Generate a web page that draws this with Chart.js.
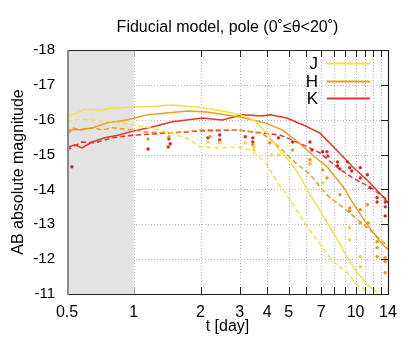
<!DOCTYPE html>
<html><head><meta charset="utf-8">
<script src="https://cdn.jsdelivr.net/npm/chart.js@4/dist/chart.umd.min.js"></script>
<style>html,body{margin:0;padding:0;background:#fff}</style>
</head><body>
<canvas id="c" width="415" height="346" style="display:block;width:415px;height:346px"></canvas>
<script>
// ---------- text ----------
const titleText = 'Fiducial model, pole (0\u02DA\u2264\u03B8<20\u02DA)';
const xAxisTitle = 't [day]';
const yAxisTitle = 'AB absolute magnitude';
const bandNames = ['J', 'H', 'K'];

// ---------- ticks ----------
const xTickValues = [0.5, 1, 2, 3, 4, 5, 6, 7, 8, 9, 10, 11, 12, 13, 14];
const xTickLabels = {0.5: '0.5', 1: '1', 2: '2', 3: '3', 4: '4', 5: '5', 7: '7', 10: '10', 14: '14'};
const yTickValues = [-18, -17, -16, -15, -14, -13, -12, -11];
const shadedRange = [0.5, 1];

// ---------- model curves (t [day], magnitude) ----------
const J_solid_t = [0.5, 0.55, 0.6, 0.7, 0.8, 0.9, 1.0, 1.2, 1.5, 1.8, 2.0, 2.5, 3.0, 3.5, 4.0, 4.5, 5.2, 5.7, 6.23, 7.1, 8.2, 9.2, 10.1, 11.3, 12.5];
const J_solid_m = [-16.11, -16.18, -16.3, -16.28, -16.33, -16.34, -16.37, -16.38, -16.42, -16.38, -16.35, -16.25, -16.15, -15.98, -15.6, -15.15, -14.7, -14.3, -13.85, -13.27, -12.61, -12.04, -11.64, -11.27, -11.04];

const J_dash_t = [0.5, 0.57, 0.7, 0.8, 1.0, 1.2, 1.5, 1.75, 2.0, 2.4, 2.9, 3.3, 3.9, 4.5, 4.9, 5.9, 7.1, 7.9, 9.2, 10.1, 11.6];
const J_dash_m = [-15.94, -16.02, -15.97, -15.94, -15.85, -15.76, -15.6, -15.45, -15.22, -15.19, -15.22, -15.15, -14.8, -14.15, -13.85, -13.03, -12.33, -11.93, -11.61, -11.27, -11.04];

const H_solid_t = [0.5, 0.526, 0.57, 0.656, 0.76, 0.93, 1.15, 1.41, 1.74, 2.14, 3.0, 3.91, 4.67, 5.55, 6.56, 7.43, 8.8, 9.7, 11.3, 12.9, 14];
const H_solid_m = [-15.56, -15.71, -15.71, -15.77, -15.91, -15.99, -16.14, -16.19, -16.25, -16.22, -16.08, -15.91, -15.71, -15.34, -14.93, -14.65, -14.07, -13.62, -12.99, -12.5, -12.27];

const H_dash_t = [0.5, 0.526, 0.584, 0.648, 0.72, 0.8, 0.98, 1.12, 1.49, 2.05, 2.92, 3.8, 4.3, 4.9, 5.5, 6.2, 7.4, 9.4, 11.6, 14];
const H_dash_m = [-15.62, -15.77, -15.71, -15.77, -15.71, -15.77, -15.71, -15.65, -15.62, -15.71, -15.71, -15.6, -15.35, -15.0, -14.7, -14.45, -13.85, -13.33, -12.84, -12.36];

const K_solid_t = [0.5, 0.51, 0.542, 0.584, 0.648, 0.74, 0.858, 1.0, 1.21, 1.49, 2.05, 2.5, 3.1, 3.8, 4.11, 4.9, 5.8, 6.9, 8.2, 9.7, 11.6, 13.3, 14];
const K_solid_m = [-15.13, -15.22, -15.28, -15.19, -15.36, -15.48, -15.56, -15.68, -15.79, -15.94, -16.05, -15.99, -16.14, -16.11, -16.14, -16.05, -15.85, -15.62, -15.13, -14.65, -14.19, -13.79, -13.62];

const K_dash_t = [0.5, 0.54, 0.584, 0.67, 0.8, 1.0, 1.49, 1.74, 2.05, 2.44, 2.92, 3.44, 4.55, 4.9, 5.8, 6.9, 8.2, 9.7, 11.6, 13.3, 14];
const K_dash_m = [-15.13, -15.25, -15.36, -15.34, -15.48, -15.56, -15.62, -15.65, -15.68, -15.68, -15.71, -15.65, -15.56, -15.48, -15.28, -15.05, -14.65, -14.33, -14.07, -13.79, -13.7];

// ---------- observed points (t [day], magnitude) ----------
const K_obs_t = [0.5, 0.526, 0.5, 1.16, 1.43, 1.46, 1.44, 2.16, 2.44, 2.44, 3.18, 3.44, 3.44, 4.49, 5.2, 6.23, 6.36, 7.1, 7.43, 7.5, 8.3, 8.3, 8.5, 9.2, 9.4, 9.6, 10.5, 10.5, 11.3, 11.6, 12.5, 12.5, 13.6, 13.6, 13.6];
const K_obs_m = [-14.65, -14.65, -14.42, -15.16, -15.22, -15.31, -15.45, -15.48, -15.56, -15.42, -15.51, -15.48, -15.36, -15.48, -15.36, -15.36, -15.13, -15.08, -15.08, -14.96, -14.79, -14.68, -14.59, -14.79, -14.62, -14.53, -14.62, -14.33, -14.42, -14.05, -13.76, -13.64, -13.64, -13.5, -13.24];

const H_obs_t = [1.16, 1.44, 2.2, 2.44, 3.44, 4.1, 5.2, 6.23, 6.23, 7.1, 7.43, 8.5, 9.4, 9.4, 10.5, 11.3, 10.5, 11.4, 12.5, 12.5, 12.5, 13.6, 13.6, 13.6];
const H_obs_m = [-15.45, -15.51, -15.51, -15.36, -15.28, -15.34, -15.13, -14.85, -14.73, -14.56, -14.33, -13.85, -13.47, -13.39, -13.42, -13.56, -13.04, -13.04, -12.5, -12.33, -12.07, -12.04, -11.93, -11.61];

const J_obs_t = [2.16, 2.44, 3.18, 3.48, 3.48, 4.18, 4.5, 6.23, 7.1, 9.4, 9.4, 10.5, 10.5];
const J_obs_m = [-15.36, -15.34, -15.34, -15.22, -15.13, -14.99, -14.99, -14.76, -14.19, -12.9, -12.56, -12.07, -11.78];

// ---------- styling ----------
const COL = {J: '#f2e146', H: '#ec9c1e', K: '#e8322c'};
const DOT = {J: '#eed640', H: '#e8961a', K: '#dc2424'};
const FONT = "'Liberation Sans', Arial, Helvetica, sans-serif";

const pts = (t, m) => t.map((v, i) => ({x: v, y: m[i]}));
function lineDS(name, t, m, dashed) {
  return {label: name + (dashed ? ' dashed' : ''), data: pts(t, m), borderColor: COL[name], backgroundColor: COL[name],
    borderWidth: 1.5, borderDash: dashed ? [5, 3] : [], pointRadius: 0, tension: 0, showLine: true, fill: false};
}
function dotDS(name, t, m) {
  return {label: name + ' obs', data: pts(t, m), borderColor: DOT[name], backgroundColor: DOT[name],
    pointRadius: 1.7, pointBorderWidth: 0, showLine: false};
}

const PLOT = {left: 67, top: 50, right: 388, bottom: 294};

const decor = {
  id: 'decor',
  beforeDatasetsDraw(chart) {
    const {ctx, chartArea: a, scales: {x, y}} = chart;
    ctx.save();
    ctx.strokeStyle = '#b8b8b8';
    ctx.lineWidth = 1;
    ctx.setLineDash([1, 2]);
    yTickValues.slice(1, -1).forEach(v => {
      const py = Math.round(y.getPixelForValue(v)) + 0.5;
      ctx.beginPath(); ctx.moveTo(a.left, py); ctx.lineTo(a.right, py); ctx.stroke();
    });
    xTickValues.slice(1, -1).forEach(v => {
      const px = Math.round(x.getPixelForValue(v)) + 0.5;
      ctx.beginPath(); ctx.moveTo(px, a.top); ctx.lineTo(px, a.bottom); ctx.stroke();
    });
    ctx.setLineDash([]);
    const x0 = x.getPixelForValue(shadedRange[0]);
    const x1 = x.getPixelForValue(shadedRange[1]);
    ctx.fillStyle = '#e3e3e3';
    ctx.fillRect(x0, a.top, x1 - x0, a.bottom - a.top);
    ctx.restore();
  },
  afterDraw(chart) {
    const {ctx, chartArea: a, scales: {x, y}} = chart;
    ctx.save();
    ctx.lineWidth = 1;
    xTickValues.slice(1, -1).forEach(v => {
      const px = Math.round(x.getPixelForValue(v)) + 0.5;
      ctx.strokeStyle = v <= shadedRange[1] ? '#aaaaaa' : '#222';
      ctx.beginPath(); ctx.moveTo(px, a.bottom); ctx.lineTo(px, a.bottom - 7); ctx.stroke();
      ctx.beginPath(); ctx.moveTo(px, a.top); ctx.lineTo(px, a.top + 7); ctx.stroke();
    });
    ctx.strokeStyle = '#222';
    yTickValues.slice(1, -1).forEach(v => {
      const py = Math.round(y.getPixelForValue(v)) + 0.5;
      ctx.beginPath(); ctx.moveTo(a.right, py); ctx.lineTo(a.right - 7, py); ctx.stroke();
    });
    ctx.strokeStyle = '#222';
    ctx.lineWidth = 1.2;
    ctx.beginPath();
    ctx.moveTo(a.left, a.top + 0.5); ctx.lineTo(a.right + 0.5, a.top + 0.5);
    ctx.lineTo(a.right + 0.5, a.bottom + 0.5); ctx.lineTo(a.left, a.bottom + 0.5);
    ctx.stroke();
    ctx.strokeStyle = '#8a8a8a';
    ctx.lineWidth = 2;
    ctx.beginPath(); ctx.moveTo(a.left + 1, a.top); ctx.lineTo(a.left + 1, a.bottom + 1); ctx.stroke();

    ctx.font = '17px ' + FONT;
    ctx.textAlign = 'right';
    ctx.textBaseline = 'middle';
    const legY = [63, 81, 98];
    bandNames.forEach((n, i) => {
      ctx.fillStyle = '#000';
      ctx.fillText(n, 318, legY[i] + 1);
      ctx.strokeStyle = COL[n];
      ctx.lineWidth = 1.8;
      ctx.beginPath(); ctx.moveTo(327, legY[i] + 0.5); ctx.lineTo(370, legY[i] + 0.5); ctx.stroke();
    });

    ctx.fillStyle = '#000';
    ctx.textAlign = 'center';
    ctx.textBaseline = 'middle';
    ctx.font = '16px ' + FONT;
    ctx.fillText(titleText, (a.left + a.right) / 2, 28);
    ctx.fillText(xAxisTitle, (a.left + a.right) / 2, 327);
    ctx.translate(19, (a.top + a.bottom) / 2);
    ctx.rotate(-Math.PI / 2);
    ctx.fillText(yAxisTitle, 0, 0);
    ctx.restore();
  }
};

const datasets = [
  dotDS('J', J_obs_t, J_obs_m),
  dotDS('H', H_obs_t, H_obs_m),
  dotDS('K', K_obs_t, K_obs_m),
  lineDS('J', J_dash_t, J_dash_m, true),
  lineDS('J', J_solid_t, J_solid_m, false),
  lineDS('H', H_dash_t, H_dash_m, true),
  lineDS('H', H_solid_t, H_solid_m, false),
  lineDS('K', K_dash_t, K_dash_m, true),
  lineDS('K', K_solid_t, K_solid_m, false)
];

Chart.defaults.font.family = FONT;
Chart.defaults.color = '#000';

new Chart(document.getElementById('c'), {
  type: 'scatter',
  data: {datasets},
  options: {
    responsive: false,
    animation: false,
    devicePixelRatio: 1,
    layout: {padding: {left: 0, top: PLOT.top, right: 415 - PLOT.right, bottom: 0}},
    plugins: {legend: {display: false}, title: {display: false}, tooltip: {enabled: false}},
    scales: {
      x: {
        type: 'logarithmic', min: 0.5, max: 14,
        grid: {display: false, drawTicks: false}, border: {display: false},
        afterBuildTicks: s => { s.ticks = xTickValues.map(v => ({value: v})); },
        afterFit: s => { s.height = 346 - PLOT.bottom; },
        ticks: {autoSkip: false, maxRotation: 0, padding: 9, font: {size: 16}, color: '#000',
          callback: v => (xTickLabels[v] !== undefined ? xTickLabels[v] : '')}
      },
      y: {
        type: 'linear', reverse: true, min: -18, max: -11,
        grid: {display: false, drawTicks: false}, border: {display: false},
        afterBuildTicks: s => { s.ticks = yTickValues.map(v => ({value: v})); },
        afterFit: s => { s.width = PLOT.left; },
        ticks: {padding: 12, font: {size: 15}, color: '#000', callback: v => String(v)}
      }
    }
  },
  plugins: [decor]
});
</script>
</body></html>
